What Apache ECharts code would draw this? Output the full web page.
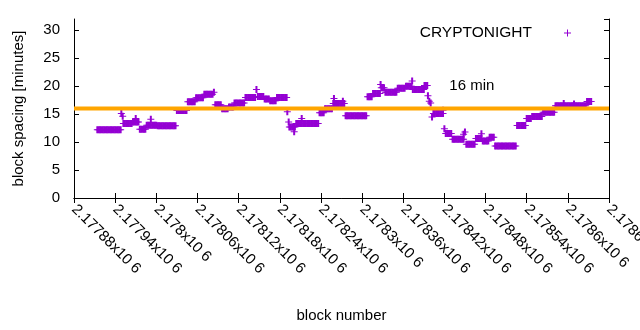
<!DOCTYPE html>
<html><head><meta charset="utf-8">
<script src="https://cdn.jsdelivr.net/npm/echarts@6/dist/echarts.min.js"></script>
<style>html,body{margin:0;padding:0;background:#fff}#c{width:640px;height:330px}</style>
</head><body><div id="c"></div>
<script>
const seriesName = 'CRYPTONIGHT';
const xLabelName = 'block number';
const yLabelName = 'block spacing [minutes]';
const targetSpacing = 16;
const targetLabel = '16 min';
const targetLabelAt = [2178460, 20];
const xMin = 2177880, xMax = 2178660, xStep = 60;
const yMin = 0, yMax = 32, yStep = 5;
// [block number, block spacing (minutes)]
const samples = [
[2177914,12.2],[2177916,12.2],[2177918,12.2],[2177920,12.2],[2177922,12.2],[2177924,12.2],[2177926,12.2],[2177928,12.2],[2177930,12.2],[2177932,12.2],[2177934,12.2],[2177936,12.2],[2177938,12.2],[2177940,12.2],[2177942,12.2],[2177944,12.2],[2177946,12.2],[2177948,12.2],
[2177949,15.1],[2177951,14.6],
[2177952,13.3],[2177954,13.3],[2177956,13.3],[2177958,13.3],[2177960,13.3],[2177962,13.3],[2177964,13.3],
[2177966,13.6],[2177968,13.6],[2177970,13.6],[2177972,13.6],[2177974,13.6],[2177970,14.2],
[2177976,12.3],[2177978,12.3],[2177980,12.3],[2177982,12.3],[2177984,12.3],
[2177986,13.0],[2177988,13.0],[2177990,13.0],[2177992,13.0],[2177994,13.0],[2177996,13.0],[2177998,13.0],[2178000,13.0],[2177992,14.1],
[2178002,12.9],[2178004,12.9],[2178006,12.9],[2178008,12.9],[2178010,12.9],[2178012,12.9],[2178014,12.9],[2178016,12.9],[2178018,12.9],[2178020,12.9],[2178022,12.9],[2178024,12.9],[2178026,12.9],[2178028,12.9],
[2178030,15.65],[2178032,15.65],[2178034,15.65],[2178036,15.65],[2178038,15.65],[2178040,15.65],[2178042,15.65],[2178044,15.65],
[2178046,17.2],[2178048,17.2],[2178050,17.2],[2178052,17.2],[2178054,17.2],[2178056,17.2],
[2178058,17.9],[2178060,17.9],[2178062,17.9],[2178064,17.9],[2178066,17.9],[2178068,17.9],
[2178070,18.55],[2178072,18.55],[2178074,18.55],[2178076,18.55],[2178078,18.55],[2178080,18.55],[2178082,18.55],[2178084,18.9],
[2178086,16.65],[2178088,16.65],[2178090,16.65],[2178092,16.65],[2178094,16.65],
[2178096,15.95],[2178098,15.95],[2178100,15.95],[2178102,15.95],[2178104,15.95],
[2178106,16.25],[2178108,16.25],[2178110,16.25],[2178112,16.25],
[2178114,17.0],[2178116,17.0],[2178118,17.0],[2178120,17.0],[2178122,17.0],[2178124,17.0],[2178126,17.0],[2178128,17.0],
[2178130,17.95],[2178132,17.95],[2178134,17.95],[2178136,17.95],[2178138,17.95],[2178140,17.95],[2178142,17.95],[2178144,17.95],[2178146,19.4],
[2178148,18.15],[2178150,18.15],[2178152,18.15],[2178154,18.15],[2178156,18.15],
[2178158,17.7],[2178160,17.7],[2178162,17.7],[2178164,17.7],
[2178166,17.4],[2178168,17.4],[2178170,17.4],[2178172,17.4],[2178174,17.4],
[2178176,17.95],[2178178,17.95],[2178180,17.95],[2178182,17.95],[2178184,17.95],[2178186,17.95],[2178188,17.95],[2178190,17.95],
[2178191,15.4],[2178193,13.6],
[2178194,12.7],[2178196,12.7],[2178198,12.7],[2178200,12.7],[2178202,12.7],[2178201,11.85],
[2178204,13.3],[2178206,13.3],[2178208,13.3],[2178210,13.3],[2178212,13.3],[2178214,13.3],[2178216,13.3],[2178218,13.3],[2178220,13.3],[2178222,13.3],[2178224,13.3],[2178226,13.3],[2178228,13.3],[2178230,13.3],[2178232,13.3],[2178234,13.3],[2178236,13.3],[2178212,14.2],
[2178238,15.25],[2178240,15.25],[2178242,15.25],[2178244,15.25],
[2178246,15.95],[2178248,15.95],[2178250,15.95],[2178252,15.95],[2178254,15.95],[2178256,15.95],[2178259,17.8],
[2178258,16.9],[2178260,16.9],[2178262,16.9],[2178264,16.9],[2178266,16.9],[2178268,16.9],[2178270,16.9],[2178272,16.9],[2178274,16.9],[2178272,17.3],
[2178276,14.7],[2178278,14.7],[2178280,14.7],[2178282,14.7],[2178284,14.7],[2178286,14.7],[2178288,14.7],[2178290,14.7],[2178292,14.7],[2178294,14.7],[2178296,14.7],[2178298,14.7],[2178300,14.7],[2178302,14.7],[2178304,14.7],[2178306,14.7],
[2178308,18.1],[2178310,18.1],[2178312,18.1],[2178314,18.1],
[2178316,18.7],[2178318,18.7],[2178320,18.7],[2178322,18.7],[2178324,18.7],[2178326,18.7],[2178327,20.3],
[2178328,19.7],[2178330,19.7],[2178332,19.7],
[2178334,18.9],[2178336,18.9],[2178338,18.9],[2178340,18.9],[2178342,18.9],[2178344,18.9],[2178346,18.9],[2178348,18.9],[2178350,18.9],
[2178352,19.6],[2178354,19.6],[2178356,19.6],[2178358,19.6],[2178360,19.6],[2178362,19.6],
[2178364,20.0],[2178366,20.0],[2178368,20.0],[2178370,20.0],[2178372,20.0],[2178373,20.9],
[2178374,19.4],[2178376,19.4],[2178378,19.4],[2178380,19.4],[2178382,19.4],[2178384,19.4],[2178386,19.4],[2178388,19.4],[2178390,19.4],
[2178391,20.1],[2178393,20.1],[2178395,20.1],
[2178396,18.3],[2178398,17.3],[2178400,17.0],[2178402,14.5],
[2178404,15.1],[2178406,15.1],[2178408,15.1],[2178410,15.1],[2178412,15.1],[2178414,15.1],[2178416,15.1],[2178418,15.1],[2178418,15.7],
[2178420,12.4],
[2178422,11.55],[2178424,11.55],[2178426,11.55],[2178428,11.55],[2178430,11.55],
[2178432,10.5],[2178434,10.5],[2178436,10.5],[2178438,10.5],[2178440,10.5],[2178442,10.5],[2178444,10.5],[2178446,10.5],[2178448,10.5],[2178448,11.4],[2178450,11.8],
[2178452,9.6],[2178454,9.6],[2178456,9.6],[2178458,9.6],[2178460,9.6],[2178462,9.6],[2178464,9.6],
[2178466,10.65],[2178468,10.65],[2178470,10.65],[2178472,10.65],[2178474,10.65],[2178474,11.5],
[2178476,10.2],[2178478,10.2],[2178480,10.2],[2178482,10.2],[2178484,10.2],
[2178486,10.85],[2178488,10.85],[2178490,10.85],[2178492,10.85],
[2178494,9.3],[2178496,9.3],[2178498,9.3],[2178500,9.3],[2178502,9.3],[2178504,9.3],[2178506,9.3],[2178508,9.3],[2178510,9.3],[2178512,9.3],[2178514,9.3],[2178516,9.3],[2178518,9.3],[2178520,9.3],[2178522,9.3],[2178524,9.3],
[2178526,12.95],[2178528,12.95],[2178530,12.95],[2178532,12.95],[2178534,12.95],[2178536,12.95],[2178538,12.95],
[2178540,14.2],[2178542,14.2],[2178544,14.2],[2178546,14.2],
[2178548,14.55],[2178550,14.55],[2178552,14.55],[2178554,14.55],[2178556,14.55],[2178558,14.55],[2178560,14.55],[2178562,14.55],
[2178564,15.35],[2178566,15.35],[2178568,15.35],[2178570,15.35],[2178572,15.35],[2178574,15.35],[2178576,15.35],[2178578,15.35],[2178580,15.35],
[2178582,16.5],[2178584,16.5],[2178586,16.5],[2178588,16.5],[2178590,16.5],[2178592,16.5],[2178594,16.5],[2178596,16.5],[2178598,16.5],[2178600,16.5],[2178602,16.5],[2178604,16.5],[2178606,16.5],[2178608,16.5],[2178610,16.5],[2178612,16.5],[2178614,16.5],[2178616,16.5],[2178618,16.5],[2178620,16.5],[2178622,16.5],[2178624,16.5],[2178626,16.5],[2178594,16.9],[2178609,16.8],
[2178628,17.25],[2178630,17.25],[2178632,17.25],[2178634,17.25]
];

const FONT = '"Liberation Sans", Arial, sans-serif';
const PLUS = 'path://M0,3h7v1h-7z M2.5,0h2v7h-2z';
const LEGEND_PLUS = 'path://M0,3h7v1h-7z M3,0h1v7h-1z';
const purple = '#9400d3', orange = '#ffa500';
const fmtX = v => Number((v / 1e6).toFixed(5)).toString() + 'x10 6';

const baseX = {
  type: 'value', min: xMin, max: xMax, interval: xStep,
  axisLine: {show: true, lineStyle: {color: '#000', width: 1}},
  axisTick: {show: true, inside: true, length: 5, lineStyle: {color: '#000'}},
  splitLine: {show: false}
};
const baseY = {
  type: 'value', min: yMin, max: yMax, interval: yStep,
  axisLine: {show: true, lineStyle: {color: '#000', width: 1}},
  axisTick: {show: true, inside: true, length: 5, lineStyle: {color: '#000'}},
  splitLine: {show: false}
};

const chart = echarts.init(document.getElementById('c'), null, {renderer: 'canvas'});
chart.setOption({
  animation: false,
  backgroundColor: '#fff',
  textStyle: {fontFamily: FONT},
  grid: {left: 74, right: 31, top: 19, bottom: 132, containLabel: false, outerBoundsMode: 'none'},
  legend: {
    data: [{name: seriesName, icon: LEGEND_PLUS}],
    right: 64, top: 20, align: 'right', itemWidth: 7, itemHeight: 7,
    textStyle: {fontFamily: FONT, fontSize: 15.5, color: '#000', padding: [0, 27, 0, 0]}
  },
  xAxis: [
    Object.assign({}, baseX, {
      position: 'bottom', name: xLabelName, nameLocation: 'middle', nameGap: 110,
      nameTextStyle: {fontFamily: FONT, fontSize: 15, color: '#000'},
      axisLabel: {show: true, rotate: -45, margin: 9, fontFamily: FONT, fontSize: 15, color: '#000', formatter: fmtX, hideOverlap: false}
    }),
    Object.assign({}, baseX, {position: 'top', axisLabel: {show: false}})
  ],
  yAxis: [
    Object.assign({}, baseY, {
      position: 'left', name: yLabelName, nameLocation: 'middle', nameGap: 48,
      nameTextStyle: {fontFamily: FONT, fontSize: 15, color: '#000'},
      axisLabel: {show: true, margin: 14, fontFamily: FONT, fontSize: 15, color: '#000', showMaxLabel: false}
    }),
    Object.assign({}, baseY, {position: 'right', axisLabel: {show: false}})
  ],
  series: [
    {
      name: seriesName, type: 'scatter', xAxisIndex: 0, yAxisIndex: 0,
      symbol: PLUS, symbolSize: 7, itemStyle: {color: purple, opacity: 1},
      data: samples, z: 2, large: false
    },
    {
      name: targetLabel, type: 'line', xAxisIndex: 0, yAxisIndex: 0,
      data: [[xMin, targetSpacing], [xMax, targetSpacing]],
      symbol: 'none', lineStyle: {color: orange, width: 4}, z: 5, silent: true,
      markPoint: {
        symbol: 'circle', symbolSize: 0, silent: true,
        data: [{coord: targetLabelAt}],
        label: {show: true, position: 'inside', formatter: targetLabel, fontFamily: FONT, fontSize: 15, color: '#000'}
      }
    }
  ]
});
</script></body></html>
